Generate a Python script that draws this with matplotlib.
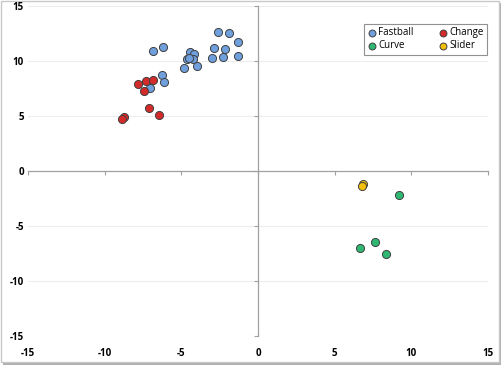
import matplotlib
matplotlib.use("Agg")
import matplotlib.pyplot as plt
from matplotlib.patches import Rectangle

fastball_x = [-6.83, -6.22, -2.63, -1.91, -1.30, -2.89, -2.13, -3.02, -2.30, -1.30,
              -4.42, -4.20, -4.63, -4.26, -4.50, -4.00, -4.83, -6.24, -6.11, -7.05]
fastball_y = [10.94, 11.24, 12.64, 12.55, 11.76, 11.15, 11.06, 10.27, 10.36, 10.45,
              10.85, 10.67, 10.21, 10.15, 10.25, 9.58, 9.36, 8.70, 8.09, 7.58]
change_x = [-7.83, -7.33, -6.83, -7.44, -7.11, -6.44, -8.72, -8.85]
change_y = [7.91, 8.18, 8.30, 7.27, 5.70, 5.09, 4.91, 4.70]
curve_x = [9.22, 7.61, 6.63, 8.33]
curve_y = [-2.21, -6.45, -7.00, -7.58]
slider_x = [6.87, 6.78]
slider_y = [-1.21, -1.33]

ticks = [-15, -10, -5, 0, 5, 10, 15]

W, H = 504, 367
fig = plt.figure(figsize=(W / 100, H / 100), dpi=100)
fig.patch.set_facecolor("white")

# frame with shadow
fig.add_artist(Rectangle((3 / W, 1 - 365 / H), 498 / W, 362 / H, transform=fig.transFigure,
                         facecolor="#b0b0b0", edgecolor="none", zorder=-3))
fig.add_artist(Rectangle((1 / W, 1 - 362 / H), 498 / W, 361 / H, transform=fig.transFigure,
                         facecolor="white", edgecolor="#c8c8c8", linewidth=1, zorder=-2))

ax = fig.add_axes([28 / W, 1 - 336 / H, 460 / W, 330 / H])
ax.set_facecolor("none")
ax.set_xlim(-15, 15)
ax.set_ylim(-15, 15)

for y in ticks:
    if y != 0:
        ax.axhline(y, color="#ededed", linewidth=0.8, zorder=0)

for s in ["top", "right"]:
    ax.spines[s].set_visible(False)
ax.spines["left"].set_position(("data", 0))
ax.spines["bottom"].set_position(("data", 0))
for s in ["left", "bottom"]:
    ax.spines[s].set_color("#a0a0a0")
    ax.spines[s].set_linewidth(0.9)
ax.set_xticks(ticks)
ax.set_yticks(ticks)
ax.tick_params(axis="both", direction="out", length=3, width=0.8, color="#a0a0a0",
               labelbottom=False, labelleft=False)

kw = dict(s=34, edgecolors="#404040", linewidths=0.7, zorder=3)
ax.scatter(fastball_x, fastball_y, color="#6f9fdc", label="Fastball", **kw)
ax.scatter(change_x, change_y, color="#d42a2a", label="Change", **kw)
ax.scatter(curve_x, curve_y, color="#2eb872", label="Curve", **kw)
ax.scatter(slider_x, slider_y, color="#f2c00a", label="Slider", **kw)

# edge tick labels
secx = ax.secondary_xaxis(0)
secx.set_xticks(ticks)
secx.set_xticklabels([str(t) for t in ticks])
secx.tick_params(length=0, pad=9)
secx.spines["bottom"].set_visible(False)
secy = ax.secondary_yaxis(0)
secy.set_yticks(ticks)
secy.set_yticklabels([str(t) for t in ticks])
secy.tick_params(length=0, pad=3)
secy.spines["left"].set_visible(False)
for lab in secx.get_xticklabels() + secy.get_yticklabels():
    lab.set_fontweight("bold")
    lab.set_fontsize(7)
    lab.set_fontfamily("Open Sans")

# legend order: Fastball, Change (row 1); Curve, Slider (row 2)
h, l = ax.get_legend_handles_labels()
order = [0, 2, 1, 3]
leg = ax.legend([h[i] for i in order], [l[i] for i in order], ncol=2,
                loc="upper right", bbox_to_anchor=((487 - 28) / 460, 1 - (24 - 6) / 330),
                borderaxespad=0,
                frameon=True, fancybox=False, edgecolor="#909090", framealpha=1,
                borderpad=0.35, handletextpad=0.1, columnspacing=2.6, labelspacing=0.2,
                handlelength=1.0, markerscale=0.85,
                prop={"family": "Open Sans", "size": 7})
leg.get_frame().set_linewidth(0.8)

fig.savefig("out.png", dpi=100)
